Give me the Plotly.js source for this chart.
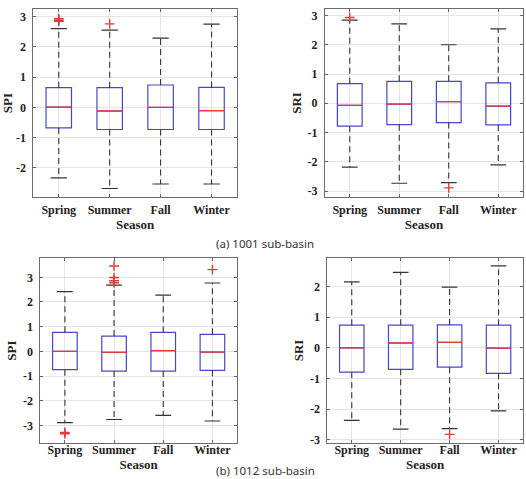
<!DOCTYPE html>
<html>
<head>
<meta charset="utf-8">
<script src="https://cdn.plot.ly/plotly-3.0.1.min.js"></script>
<style>
  html, body { margin: 0; padding: 0; background: #ffffff; }
  #chart { width: 526px; height: 479px; }
</style>
</head>
<body>
<div id="chart"></div>
<script>
// Seasonal box plots of drought indices for two sub-basins
const seasons = ['Spring', 'Summer', 'Fall', 'Winter'];
const yTickVals = [-3, -2, -1, 0, 1, 2, 3];
const yTickText = ['-3', '-2', '-1', '0', '1', '2', '3'];

// (a) 1001 sub-basin, SPI
const spi1001Lower  = [-2.33, -2.68, -2.53, -2.53];
const spi1001Q1     = [-0.68, -0.73, -0.73, -0.73];
const spi1001Median = [0.01, -0.12, 0.00, -0.11];
const spi1001Q3     = [0.65, 0.65, 0.74, 0.66];
const spi1001Upper  = [2.60, 2.55, 2.29, 2.75];
const spi1001OutSeason = ['Spring', 'Spring', 'Spring', 'Summer'];
const spi1001OutValue  = [2.84, 2.88, 2.93, 2.76];

// (a) 1001 sub-basin, SRI
const sri1001Lower  = [-2.18, -2.73, -2.71, -2.10];
const sri1001Q1     = [-0.78, -0.73, -0.66, -0.74];
const sri1001Median = [-0.07, -0.03, 0.06, -0.10];
const sri1001Q3     = [0.67, 0.75, 0.75, 0.70];
const sri1001Upper  = [2.84, 2.71, 2.00, 2.54];
const sri1001OutSeason = ['Spring', 'Fall'];
const sri1001OutValue  = [2.93, -2.89];

// (b) 1012 sub-basin, SPI
const spi1012Lower  = [-2.89, -2.76, -2.59, -2.82];
const spi1012Q1     = [-0.74, -0.80, -0.80, -0.77];
const spi1012Median = [0.00, -0.04, 0.03, -0.03];
const spi1012Q3     = [0.77, 0.62, 0.77, 0.69];
const spi1012Upper  = [2.42, 2.68, 2.28, 2.77];
const spi1012OutSeason = ['Spring', 'Spring', 'Summer', 'Summer', 'Summer', 'Summer', 'Winter'];
const spi1012OutValue  = [-3.28, -3.34, 3.46, 2.99, 2.86, 2.78, 3.31];

// (b) 1012 sub-basin, SRI
const sri1012Lower  = [-2.36, -2.65, -2.63, -2.05];
const sri1012Q1     = [-0.79, -0.70, -0.63, -0.83];
const sri1012Median = [0.00, 0.16, 0.18, -0.01];
const sri1012Q3     = [0.74, 0.74, 0.75, 0.74];
const sri1012Upper  = [2.15, 2.46, 1.98, 2.67];
const sri1012OutSeason = ['Fall'];
const sri1012OutValue  = [-2.82];

const BOX_BLUE = '#4646cc';
const MEDIAN_RED = '#e23a3a';
const WHISKER = '#333333';
const BOX_HALF = 0.25;
const CAP_HALF = 0.16;

const xPos = seasons.map((_, i) => i + 1);

function panelTraces(n, lower, q1, median, q3, upper, outSeason, outValue) {
  const xa = n === 1 ? 'x' : 'x' + n;
  const ya = n === 1 ? 'y' : 'y' + n;
  const traces = [];

  // dashed whiskers from the box edges out to the extremes, with solid caps
  const wx = [], wy = [];
  const cx = [], cy = [];
  const mx = [], my = [];
  xPos.forEach((x, i) => {
    wx.push(x, x, null, x, x, null);
    wy.push(q3[i], upper[i], null, q1[i], lower[i], null);
    cx.push(x - CAP_HALF, x + CAP_HALF, null, x - CAP_HALF, x + CAP_HALF, null);
    cy.push(upper[i], upper[i], null, lower[i], lower[i], null);
    mx.push(x - BOX_HALF, x + BOX_HALF, null);
    my.push(median[i], median[i], null);
  });

  // interquartile boxes
  traces.push({
    type: 'box', xaxis: xa, yaxis: ya,
    x: xPos, q1: q1, median: median, q3: q3,
    lowerfence: q1, upperfence: q3,
    width: 2 * BOX_HALF, whiskerwidth: 0,
    boxpoints: false,
    line: { color: BOX_BLUE, width: 1.2 },
    fillcolor: 'rgba(0,0,0,0)',
    hoverinfo: 'skip', showlegend: false
  });
  traces.push({
    type: 'scatter', mode: 'lines', xaxis: xa, yaxis: ya,
    x: wx, y: wy,
    line: { color: WHISKER, width: 1.1, dash: '6px,4px' },
    hoverinfo: 'skip', showlegend: false
  });
  traces.push({
    type: 'scatter', mode: 'lines', xaxis: xa, yaxis: ya,
    x: cx, y: cy,
    line: { color: WHISKER, width: 1.2 },
    hoverinfo: 'skip', showlegend: false
  });
  // medians in red over the boxes
  traces.push({
    type: 'scatter', mode: 'lines', xaxis: xa, yaxis: ya,
    x: mx, y: my,
    line: { color: MEDIAN_RED, width: 1.3 },
    hoverinfo: 'skip', showlegend: false
  });
  // outliers
  traces.push({
    type: 'scatter', mode: 'markers', xaxis: xa, yaxis: ya,
    x: outSeason.map(s => seasons.indexOf(s) + 1), y: outValue,
    marker: { symbol: 'cross-thin', size: 7, line: { color: MEDIAN_RED, width: 1.4 } },
    hoverinfo: 'skip', showlegend: false
  });
  return traces;
}

const data = [].concat(
  panelTraces(1, spi1001Lower, spi1001Q1, spi1001Median, spi1001Q3, spi1001Upper, spi1001OutSeason, spi1001OutValue),
  panelTraces(2, sri1001Lower, sri1001Q1, sri1001Median, sri1001Q3, sri1001Upper, sri1001OutSeason, sri1001OutValue),
  panelTraces(3, spi1012Lower, spi1012Q1, spi1012Median, spi1012Q3, spi1012Upper, spi1012OutSeason, spi1012OutValue),
  panelTraces(4, sri1012Lower, sri1012Q1, sri1012Median, sri1012Q3, sri1012Upper, sri1012OutSeason, sri1012OutValue)
);

const W = 526, H = 479;
const tickFont = { family: '"Liberation Serif", "Times New Roman", serif', size: 12, color: '#222222' };
const titleFont = { family: '"Liberation Serif", "Times New Roman", serif', size: 13, color: '#222222', weight: 'bold' };

function xAxis(left, right, anchor, standoff) {
  return {
    domain: [left / W, right / W], anchor: anchor,
    range: [0.5, 4.5], tickvals: xPos, ticktext: seasons,
    ticks: 'inside', ticklen: 3, tickcolor: '#666666',
    showline: true, linecolor: '#6b6b6b', linewidth: 1, mirror: 'ticks',
    showgrid: true, gridcolor: '#e4e4e4', gridwidth: 1, zeroline: false,
    tickfont: Object.assign({ weight: 'bold' }, tickFont),
    ticklabelstandoff: standoff,
    title: { text: 'Season', font: titleFont, standoff: 2 },
    fixedrange: true
  };
}
function yAxis(top, bottom, anchor, range, label) {
  return {
    domain: [1 - bottom / H, 1 - top / H], anchor: anchor,
    range: range, tickvals: yTickVals, ticktext: yTickText,
    ticks: 'inside', ticklen: 3, tickcolor: '#666666',
    showline: true, linecolor: '#6b6b6b', linewidth: 1, mirror: 'ticks',
    showgrid: true, gridcolor: '#e4e4e4', gridwidth: 1, zeroline: false,
    tickfont: Object.assign({ weight: 'bold' }, tickFont),
    ticklabelstandoff: 4,
    title: { text: label, font: titleFont, standoff: 3 },
    fixedrange: true
  };
}

const captionFont = { family: '"Noto Sans", "Open Sans", sans-serif', size: 11.5, color: '#333333' };

const layout = {
  width: W, height: H,
  margin: { l: 0, r: 0, t: 0, b: 0 },
  paper_bgcolor: '#ffffff', plot_bgcolor: '#ffffff',
  showlegend: false,
  xaxis:  xAxis(33.3, 237, 'y', 2),
  yaxis:  yAxis(9.3, 197, 'x', [-2.96, 3.24], 'SPI'),
  xaxis2: xAxis(325, 523, 'y2', 2),
  yaxis2: yAxis(9.3, 196.7, 'x2', [-3.19, 3.21], 'SRI'),
  xaxis3: xAxis(40.3, 237, 'y3', -4),
  yaxis3: yAxis(258.3, 442.7, 'x3', [-3.70, 3.77], 'SPI'),
  xaxis4: xAxis(327.3, 523, 'y4', -4),
  yaxis4: yAxis(258.3, 442.7, 'x4', [-3.09, 2.92], 'SRI'),
  annotations: [
    { text: '(a) 1001 sub-basin', xref: 'paper', yref: 'paper',
      x: 265 / W, y: 1 - 243.5 / H, xanchor: 'center', yanchor: 'middle',
      showarrow: false, font: captionFont },
    { text: '(b) 1012 sub-basin', xref: 'paper', yref: 'paper',
      x: 265 / W, y: 0, xanchor: 'center', yanchor: 'bottom',
      borderpad: 0, showarrow: false, font: captionFont }
  ]
};

Plotly.newPlot('chart', data, layout, { displayModeBar: false, staticPlot: true });
</script>
</body>
</html>
